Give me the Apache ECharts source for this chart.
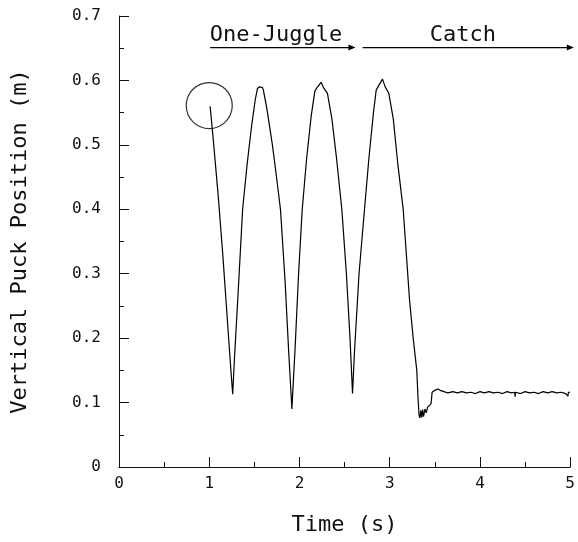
<!DOCTYPE html>
<html>
<head>
<meta charset="utf-8">
<script src="https://cdn.jsdelivr.net/npm/echarts@6/dist/echarts.min.js"></script>
<style>
  html, body { margin: 0; padding: 0; background: #fff; }
  #chart { width: 578px; height: 542px; }
</style>
</head>
<body>
<div id="chart"></div>
<script>
// juggle phase: three throws
const juggleTime = [
  1.01, 1.05, 1.10, 1.15, 1.20, 1.24, 1.26,
  1.28, 1.32, 1.37, 1.42, 1.47, 1.51, 1.535, 1.56, 1.59, 1.60,
  1.64, 1.70, 1.75, 1.79, 1.84, 1.88, 1.916,
  1.95, 1.99, 2.03, 2.08, 2.13, 2.17, 2.19, 2.21, 2.24, 2.27, 2.29, 2.31,
  2.36, 2.41, 2.47, 2.52, 2.56, 2.588,
  2.61, 2.66, 2.72, 2.77, 2.82, 2.85, 2.87, 2.89, 2.92, 2.95, 2.97, 2.99,
  3.04, 3.09, 3.15, 3.22, 3.26, 3.30, 3.315
];
const juggleY = [
  0.560, 0.500, 0.420, 0.330, 0.230, 0.150, 0.113,
  0.170, 0.270, 0.400, 0.470, 0.530, 0.570, 0.588, 0.590, 0.589, 0.585,
  0.555, 0.500, 0.445, 0.399, 0.290, 0.180, 0.090,
  0.180, 0.300, 0.399, 0.480, 0.545, 0.583, 0.588, 0.586, 0.597, 0.588, 0.586, 0.580,
  0.540, 0.480, 0.399, 0.300, 0.200, 0.114,
  0.180, 0.300, 0.399, 0.480, 0.550, 0.585, 0.590, 0.588, 0.602, 0.590, 0.588, 0.580,
  0.540, 0.470, 0.399, 0.259, 0.200, 0.150, 0.104
];

// catch phase: puck lands and rests on the paddle
const catchTime = [
  3.326, 3.335, 3.345, 3.355, 3.365, 3.375, 3.39, 3.405, 3.42, 3.44, 3.458,
  3.47, 3.50, 3.535, 3.56, 3.60, 3.645,
  3.70, 3.75, 3.80, 3.85, 3.90, 3.95, 4.00, 4.05, 4.10, 4.15, 4.20, 4.25,
  4.30, 4.35, 4.385, 4.39, 4.395, 4.45, 4.50, 4.55, 4.60, 4.65, 4.70, 4.75,
  4.80, 4.85, 4.90, 4.95, 4.97, 4.975, 4.98, 5.00
];
const catchY = [
  0.080, 0.076, 0.088, 0.077, 0.089, 0.078, 0.090, 0.084, 0.093, 0.095, 0.098,
  0.116, 0.119, 0.121, 0.119, 0.117, 0.115,
  0.117, 0.115, 0.117, 0.115, 0.116, 0.114, 0.117, 0.115, 0.117, 0.115, 0.116, 0.114,
  0.117, 0.115, 0.116, 0.109, 0.116, 0.114, 0.117, 0.115, 0.116, 0.114, 0.117, 0.115,
  0.117, 0.115, 0.116, 0.114, 0.116, 0.110, 0.116, 0.116
];

// start of the juggle, circled
const markTime = [1.0];
const markY = [0.561];

const xTicks = [0, 1, 2, 3, 4, 5];
const yTicks = ['0', '0.1', '0.2', '0.3', '0.4', '0.5', '0.6', '0.7'];

const font = "'DejaVu Sans Mono', 'Liberation Mono', monospace";
const ink = '#111';

const linePoints = juggleTime.map((t, i) => [t, juggleY[i]])
  .concat(catchTime.map((t, i) => [t, catchY[i]]));

const chart = echarts.init(document.getElementById('chart'), null, { renderer: 'canvas' });

chart.setOption({
  animation: false,
  backgroundColor: '#fff',
  grid: { left: 119, right: 5, top: 16, bottom: 75 },
  xAxis: {
    type: 'value',
    min: xTicks[0],
    max: xTicks[xTicks.length - 1],
    interval: 1,
    name: 'Time (s)',
    nameLocation: 'middle',
    nameGap: 47,
    nameTextStyle: { fontFamily: font, fontSize: 22, color: ink },
    axisLine: { lineStyle: { color: ink, width: 1 } },
    axisTick: { inside: true, length: 10, lineStyle: { color: ink } },
    minorTick: { show: true, splitNumber: 2, length: 5, lineStyle: { color: ink } },
    axisLabel: { margin: 9, fontFamily: font, fontSize: 16, color: ink },
    splitLine: { show: false }
  },
  yAxis: {
    type: 'value',
    min: 0,
    max: 0.7,
    interval: 0.1,
    name: 'Vertical Puck Position (m)',
    nameLocation: 'middle',
    nameGap: 88,
    nameTextStyle: { fontFamily: font, fontSize: 22, color: ink },
    axisLine: { show: true, lineStyle: { color: ink, width: 1 } },
    axisTick: { show: true, inside: true, length: 10, lineStyle: { color: ink } },
    minorTick: { show: true, splitNumber: 2, length: 5, lineStyle: { color: ink } },
    axisLabel: {
      margin: 18,
      fontFamily: font,
      fontSize: 16,
      color: ink,
      formatter: (v) => yTicks[Math.round(v * 10)]
    },
    splitLine: { show: false }
  },
  series: [
    {
      type: 'line',
      data: linePoints,
      showSymbol: false,
      lineStyle: { color: '#000', width: 1.2 },
      clip: false
    },
    {
      type: 'scatter',
      data: markTime.map((t, i) => [t, markY[i]]),
      symbol: 'circle',
      symbolSize: 46,
      itemStyle: { color: 'rgba(0,0,0,0)', borderColor: '#000', borderWidth: 1.2 },
      z: 3
    }
  ]
});

// phase arrows and labels over the plot
const arrowY = 0.651;
function arrow(t0, t1) {
  const a = chart.convertToPixel({ gridIndex: 0 }, [t0, arrowY]);
  const b = chart.convertToPixel({ gridIndex: 0 }, [t1, arrowY]);
  return [
    { type: 'line', shape: { x1: a[0], y1: a[1], x2: b[0] - 5, y2: b[1] }, style: { stroke: '#000', lineWidth: 1.2 } },
    { type: 'polygon', shape: { points: [[b[0], b[1]], [b[0] - 7, b[1] - 3], [b[0] - 7, b[1] + 3]] }, style: { fill: '#000' } }
  ];
}
function label(text, t) {
  const p = chart.convertToPixel({ gridIndex: 0 }, [t, arrowY]);
  return {
    type: 'text',
    x: p[0],
    y: p[1] - 12,
    style: { text: text, fontFamily: font, fontSize: 22, fill: ink, align: 'center', verticalAlign: 'middle' }
  };
}

chart.setOption({
  graphic: [].concat(
    arrow(1.01, 2.62),
    arrow(2.70, 5.04),
    [label('One-Juggle', 1.74), label('Catch', 3.81)]
  )
});
</script>
</body>
</html>
